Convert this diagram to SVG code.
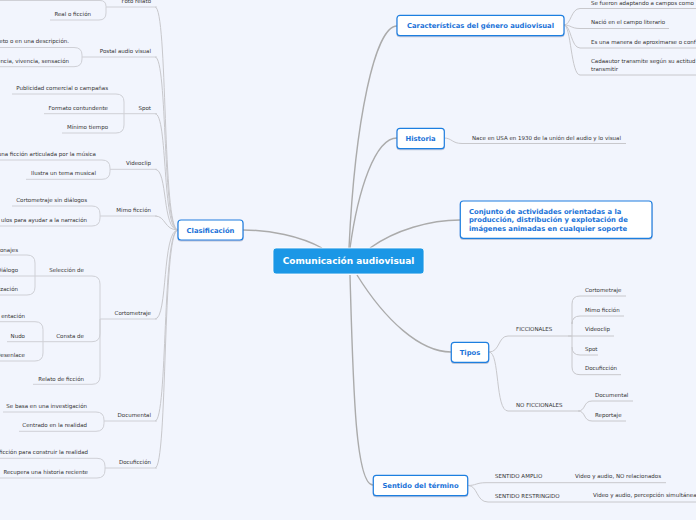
<svg xmlns="http://www.w3.org/2000/svg" width="696" height="520" viewBox="0 0 696 520">
<defs>
<filter id="sh" x="-10%" y="-20%" width="120%" height="150%"><feDropShadow dx="0" dy="1" stdDeviation="0.6" flood-color="#5a6a90" flood-opacity="0.35"/></filter>
</defs>
<style>
.bg{fill:#f2f5fd}
.main{fill:none;stroke:#ababab;stroke-width:1.4}
.sub{fill:none;stroke:#c8c8cc;stroke-width:1}
.ul{fill:none;stroke:#cfd0d6;stroke-width:1}
.box{fill:#ffffff;stroke:#1f7fe0;stroke-width:1.2}
.lbl{font-family:"DejaVu Sans",Verdana,sans-serif;font-weight:bold;font-size:6.8px;fill:#1a72d8}
.t{font-family:"DejaVu Sans",Verdana,sans-serif;font-size:5.5px;fill:#333333}
.e{text-anchor:end}
.c{text-anchor:middle}
</style>
<rect class="bg" x="0" y="0" width="696" height="520"/>

<g id="connectors">
<!-- main -->
<path class="main" d="M322,248 C300,236 270,230 243,230"/>
<path class="main" d="M349,248 C355,120 375,26 397,26"/>
<path class="main" d="M350,248 C358,190 375,138 397,138"/>
<path class="main" d="M370,248 C395,230 430,220 460,220"/>
<path class="main" d="M357,275 C385,320 420,352 451,352"/>
<path class="main" d="M350,275 C353,380 355,485 373,485"/>
<!-- Caracteristicas children -->
<path class="sub" d="M564,25 C571,25 571,8.5 580,8.5 L700,8.5"/>
<path class="sub" d="M564,25 C571,25 571,28.5 580,28.5 L669,28.5"/>
<path class="sub" d="M564,25 C571,25 571,48 580,48 L700,48"/>
<path class="sub" d="M564,25 C571,25 571,75 580,75 L700,75"/>
<!-- Historia child -->
<path class="sub" d="M444,138 C452,138 452,143.5 462,143.5 L626,143.5"/>
<!-- Tipos -->
<path class="sub" d="M489,352 C500,352 498,336 508,336 L568,336"/>
<path class="sub" d="M489,352 C500,352 495,411 508,411 L578,411"/>
<path class="sub" d="M568,336 L572,336 L572,304 Q572,296 580,296 L626,296"/>
<path class="sub" d="M572,322 L572,324 Q572,316 580,316 L624,316"/>
<path class="sub" d="M572,336 L614,336"/>
<path class="sub" d="M568,336 L572,336 L572,347 Q572,355 580,355 L598,355"/>
<path class="sub" d="M572,347 L572,367 Q572,374.7 580,374.7 L621,374.7"/>
<path class="sub" d="M578,411 C586,411 583,401 592,401 L633,401"/>
<path class="sub" d="M578,411 C586,411 583,421 592,421 L626,421"/>
<!-- Sentido -->
<path class="sub" d="M468,485.5 C476,485.5 476,482.7 486,482.7 L666,482.7"/>
<path class="sub" d="M468,485.5 C478,485.5 476,502 488,502 L700,502"/>
<!-- Clasificacion to level 2 -->
<path class="sub" d="M178,230 C162,230 168,7 155,7"/>
<path class="sub" d="M178,230 C162,230 168,57 155,57"/>
<path class="sub" d="M178,230 C162,230 168,113.7 155,113.7"/>
<path class="sub" d="M178,230 C162,230 168,169.3 155,169.3"/>
<path class="sub" d="M178,230 C164,230 166,216 155,216"/>
<path class="sub" d="M178,230 C162,230 168,319 155,319"/>
<path class="sub" d="M178,230 C162,230 168,421 155,421"/>
<path class="sub" d="M178,230 C162,230 168,468 155,468"/>
<!-- level 2 underlines -->
<path class="ul" d="M106,7 L157,7"/>
<path class="ul" d="M82,57 L157,57"/>
<path class="ul" d="M124,113.7 L157,113.7"/>
<path class="ul" d="M110,169.3 L157,169.3"/>
<path class="ul" d="M100,216 L157,216"/>
<path class="ul" d="M100,319 L157,319"/>
<path class="ul" d="M104,421 L157,421"/>
<path class="ul" d="M105,468 L157,468"/>
<!-- Foto relato -->
<path class="ul" d="M106,7 L106,6.5 Q106,0.5 100,0.5 L-5,0.5"/>
<path class="ul" d="M106,7 L106,13 Q106,20 99,20 L50,20"/>
<!-- Postal -->
<path class="ul" d="M82,57 L82,55 Q82,47.5 74,47.5 L-5,47.5"/>
<path class="ul" d="M82,57 L82,59 Q82,66.7 74,66.7 L-5,66.7"/>
<!-- Spot -->
<path class="ul" d="M124,113.7 L124,102 Q124,94 116,94 L12,94"/>
<path class="ul" d="M124,113.7 L44,113.7"/>
<path class="ul" d="M124,113.7 L124,125 Q124,133 116,133 L62,133"/>
<!-- Videoclip -->
<path class="ul" d="M110,169.3 L110,168 Q110,160 102,160 L-5,160"/>
<path class="ul" d="M110,169.3 L110,171.3 Q110,179.3 102,179.3 L26,179.3"/>
<!-- Mimo -->
<path class="ul" d="M100,216 L100,214 Q100,206 92,206 L12,206"/>
<path class="ul" d="M100,216 L100,218 Q100,226 92,226 L-5,226"/>
<!-- Cortometraje -->
<path class="ul" d="M100,319 L100,284 Q100,276 92,276 L35,276"/>
<path class="ul" d="M100,319 L100,333.7 Q100,341.7 92,341.7 L43,341.7"/>
<path class="ul" d="M100,319 L100,376.3 Q100,384.3 92,384.3 L33,384.3"/>
<!-- Seleccion de -->
<path class="ul" d="M35,276 L35,263 Q35,255 27,255 L-5,255"/>
<path class="ul" d="M35,276 L-5,276"/>
<path class="ul" d="M35,276 L35,287 Q35,295 27,295 L-5,295"/>
<!-- Consta de -->
<path class="ul" d="M43,341.7 L43,329.7 Q43,321.7 35,321.7 L-5,321.7"/>
<path class="ul" d="M43,341.7 L7,341.7"/>
<path class="ul" d="M43,341.7 L43,353 Q43,361 35,361 L-5,361"/>
<!-- Documental -->
<path class="ul" d="M104,421 L104,420 Q104,412 96,412 L3,412"/>
<path class="ul" d="M104,421 L104,423.3 Q104,431.3 96,431.3 L19,431.3"/>
<!-- Docuficcion -->
<path class="ul" d="M105,468 L105,466.3 Q105,458.3 97,458.3 L-5,458.3"/>
<path class="ul" d="M105,468 L105,470 Q105,478 97,478 L-5,478"/>
</g>

<g id="center">
<rect x="273" y="248" width="151" height="26" rx="3" fill="#1b97e6" stroke="#ffffff" stroke-width="0.8"/>
<text class="c" x="348.5" y="264.3" font-family="DejaVu Sans,Verdana,sans-serif" font-weight="bold" font-size="9px" fill="#ffffff">Comunicación audiovisual</text>
</g>

<g id="clasificacion">
<rect class="box" x="178" y="220" width="65" height="20" rx="3" filter="url(#sh)"/>
<text class="lbl c" x="210.5" y="232.6">Clasificación</text>
</g>
<g id="caracteristicas">
<rect class="box" x="397" y="15.3" width="167" height="20.4" rx="3" filter="url(#sh)"/>
<text class="lbl c" x="480.5" y="28">Características del género audiovisual</text>
</g>
<g id="historia">
<rect class="box" x="397" y="128.3" width="47.3" height="20.4" rx="3" filter="url(#sh)"/>
<text class="lbl c" x="420.6" y="141">Historia</text>
</g>
<g id="conjunto">
<rect class="box" x="460.3" y="201" width="191.7" height="37.3" rx="3" filter="url(#sh)"/>
<text class="lbl" x="469" y="213.6">Conjunto de actividades orientadas a la</text>
<text class="lbl" x="469" y="222.3">producción, distribución y explotación de</text>
<text class="lbl" x="469" y="231">imágenes animadas en cualquier soporte</text>
</g>
<g id="tipos">
<rect class="box" x="451.3" y="342.3" width="37.4" height="20" rx="3" filter="url(#sh)"/>
<text class="lbl c" x="470" y="355">Tipos</text>
</g>
<g id="sentido">
<rect class="box" x="373.3" y="475.3" width="94.4" height="20.4" rx="3" filter="url(#sh)"/>
<text class="lbl c" x="420.5" y="488">Sentido del término</text>
</g>

<g id="caracteristicas-items">
<text class="t" x="591" y="5">Se fueron adaptando a campos como</text>
<text class="t" x="591" y="24">Nació en el campo literario</text>
<text class="t" x="591" y="44">Es una manera de aproximarse o conf</text>
<text class="t" x="591" y="63">Cadaautor transmite según su actitud</text>
<text class="t" x="591" y="71">transmitir</text>
</g>
<g id="historia-items">
<text class="t" x="472" y="140">Nace en USA en 1930 de la unión del audio y lo visual</text>
</g>
<g id="tipos-items">
<text class="t" x="516" y="331">FICCIONALES</text>
<text class="t" x="516" y="407">NO FICCIONALES</text>
<text class="t" x="585" y="292">Cortometraje</text>
<text class="t" x="585" y="312">Mimo ficción</text>
<text class="t" x="585" y="331">Videoclip</text>
<text class="t" x="585" y="351">Spot</text>
<text class="t" x="585" y="370">Docuficción</text>
<text class="t" x="595" y="397">Documental</text>
<text class="t" x="595" y="417">Reportaje</text>
</g>
<g id="sentido-items">
<text class="t" x="495" y="478">SENTIDO AMPLIO</text>
<text class="t" x="575" y="478">Video y audio, NO relacionados</text>
<text class="t" x="495" y="498">SENTIDO RESTRINGIDO</text>
<text class="t" x="593" y="496.5">Video y audio, percepción simultánea</text>
</g>
<g id="clasificacion-items">
<text class="t e" x="151" y="3">Foto relato</text>
<text class="t e" x="151" y="53">Postal audio visual</text>
<text class="t e" x="151" y="109.5">Spot</text>
<text class="t e" x="151" y="165">Videoclip</text>
<text class="t e" x="151" y="212">Mimo ficción</text>
<text class="t e" x="151" y="315">Cortometraje</text>
<text class="t e" x="151" y="417">Documental</text>
<text class="t e" x="151" y="464">Docuficción</text>

<text class="t e" x="91" y="16">Real o ficción</text>
<text class="t e" x="69" y="43">eto o en una descripción.</text>
<text class="t e" x="69" y="63">encia, vivencia, sensación</text>
<text class="t e" x="108" y="90">Publicidad comercial o campañas</text>
<text class="t e" x="108" y="109.5">Formato contundente</text>
<text class="t e" x="108" y="129">Mínimo tiempo</text>
<text class="t e" x="96" y="156">una ficción articulada por la música</text>
<text class="t e" x="96" y="175">Ilustra un tema musical</text>
<text class="t e" x="87" y="202">Cortometraje sin diálogos</text>
<text class="t e" x="87" y="222">ulos para ayudar a la narración</text>
<text class="t e" x="84" y="272">Selección de</text>
<text class="t e" x="84" y="338">Consta de</text>
<text class="t e" x="84" y="381">Relato de ficción</text>
<text class="t e" x="18" y="252">onajes</text>
<text class="t e" x="18" y="272">Diálogo</text>
<text class="t e" x="18" y="291">ización</text>
<text class="t e" x="25" y="318">entación</text>
<text class="t e" x="25" y="338">Nudo</text>
<text class="t e" x="25" y="357">Desenlace</text>
<text class="t e" x="87" y="408">Se basa en una investigación</text>
<text class="t e" x="87" y="427">Centrado en la realidad</text>
<text class="t e" x="88" y="454">ficción para construir la realidad</text>
<text class="t e" x="88" y="474">Recupera una historia reciente</text>
</g>
</svg>
